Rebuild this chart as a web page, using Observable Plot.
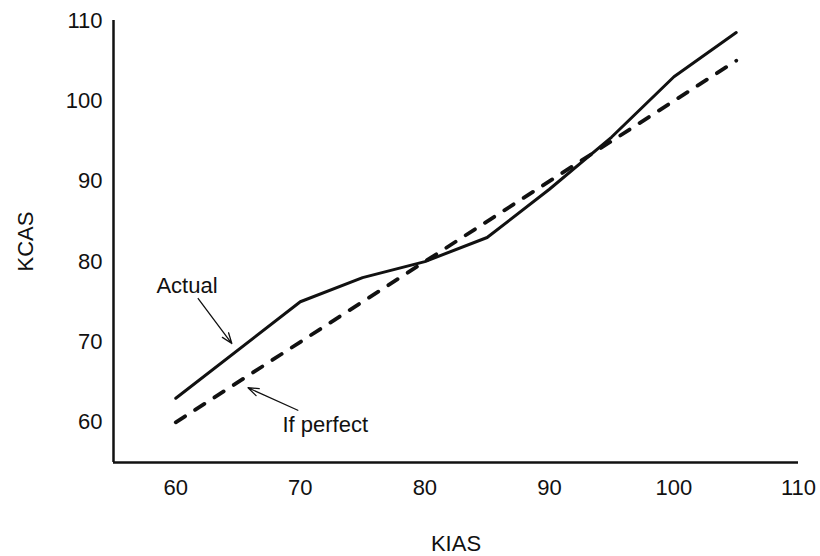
<!DOCTYPE html>
<html><head><meta charset="utf-8">
<script src="https://cdn.jsdelivr.net/npm/d3@7"></script>
<script src="https://cdn.jsdelivr.net/npm/@observablehq/plot@0.6"></script>
<style>body{margin:0;background:#fff}</style>
</head><body><div id="chart"></div>
<script>
// Data
const kias = [60, 70, 75, 80, 85, 90, 95, 100, 105];
const kcasActual = [63, 75, 78, 80, 83, 89, 95.5, 103, 108.5];
const perfectKias = [60, 105];
const perfectKcas = [60, 105];
const xTicks = [60, 70, 80, 90, 100, 110];
const yTicks = [60, 70, 80, 90, 100, 110];
// Annotations
const noteText = ["Actual", "If perfect"];
const noteX = [60.9, 72.0];
const noteY = [77.0, 59.7];
const arrowFromX = [61.8, 69.8];
const arrowFromY = [75.4, 61.5];
const arrowToX = [64.5, 65.8];
const arrowToY = [69.8, 64.3];

const actual = kias.map((k, i) => ({kias: k, kcas: kcasActual[i]}));
const perfect = perfectKias.map((k, i) => ({kias: k, kcas: perfectKcas[i]}));
const notes = noteText.map((t, i) => ({t, x: noteX[i], y: noteY[i]}));
const arrows = arrowFromX.map((x, i) => ({x1: x, y1: arrowFromY[i], x2: arrowToX[i], y2: arrowToY[i]}));

const chart = Plot.plot({
  width: 820,
  height: 556,
  marginLeft: 113,
  marginRight: 22,
  marginTop: 20,
  marginBottom: 94,
  style: {fontSize: "22px", fontFamily: "'Liberation Sans', Arial, Helvetica, sans-serif", background: "#fff", color: "#111"},
  x: {domain: [55, 110], ticks: xTicks, tickSize: 0, tickPadding: 17, label: "KIAS", labelAnchor: "center", labelOffset: 88, labelArrow: "none"},
  y: {domain: [55, 110], ticks: yTicks, tickSize: 0, tickPadding: 11, label: "KCAS", labelAnchor: "center", labelOffset: 96, labelArrow: "none"},
  marks: [
    Plot.ruleY([55], {stroke: "#111", strokeWidth: 2.5}),
    Plot.ruleX([55], {stroke: "#111", strokeWidth: 2.5}),
    Plot.line(perfect, {x: "kias", y: "kcas", stroke: "#111", strokeWidth: 3.8, strokeDasharray: "11,12"}),
    Plot.line(actual, {x: "kias", y: "kcas", stroke: "#111", strokeWidth: 3, strokeLinejoin: "miter"}),
    Plot.arrow(arrows, {x1: "x1", y1: "y1", x2: "x2", y2: "y2", stroke: "#111", strokeWidth: 1.3, headLength: 13, headAngle: 40, bend: 0}),
    Plot.text(notes, {x: "x", y: "y", text: "t", textAnchor: "middle", fill: "#111", fontSize: 22})
  ]
});
document.getElementById("chart").appendChild(chart);
</script>
</body></html>
